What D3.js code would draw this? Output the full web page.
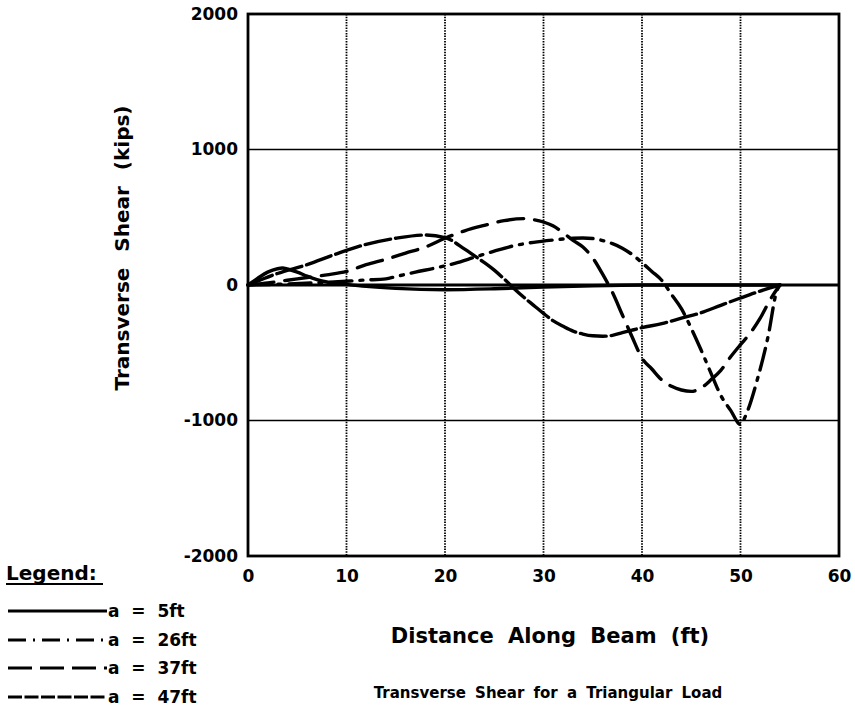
<!DOCTYPE html>
<html>
<head>
<meta charset="utf-8">
<script src="https://cdn.jsdelivr.net/npm/d3@7"></script>
<style>
  html, body { margin: 0; padding: 0; background: #fff; }
  svg { display: block; }
  text { font-family: "DejaVu Sans", "Liberation Sans", sans-serif; font-weight: bold; fill: #000; }
</style>
</head>
<body>
<svg id="chart" width="855" height="709"></svg>
<script>
// ---- Data ----
const xTicks = [0, 10, 20, 30, 40, 50, 60];
const yTicks = [-2000, -1000, 0, 1000, 2000];
const seriesNames = ["a = 5ft", "a = 26ft", "a = 37ft", "a = 47ft"];

// a = 5ft (solid)
const a5x = [0, 1, 2, 3, 3.5, 4, 5, 6, 7, 8, 10, 12, 15, 20, 25, 30, 35, 40, 54];
const a5y = [0, 50, 95, 120, 125, 118, 95, 65, 40, 22, 5, -10, -25, -35, -28, -15, -5, 0, 0];

// a = 26ft (dash-dot)
const a26x = [0, 4, 8, 12, 14, 15, 17, 19, 21, 23, 25, 27, 29, 31, 33, 34, 35, 36, 37, 38, 39, 40, 41, 42, 43, 44, 45, 46, 47, 48, 49, 50, 50.6, 51.7, 52.8, 53.7, 54];
const a26y = [0, 8, 20, 37, 45, 62, 95, 125, 160, 205, 250, 290, 315, 332, 345, 347, 343, 328, 305, 272, 225, 165, 100, 35, -70, -175, -320, -480, -650, -815, -925, -1030, -950, -700, -380, -40, 0];

// a = 37ft (long dashes)
const a37x = [0, 2, 4, 6, 8, 10, 12, 14, 16, 18, 20, 22, 24, 26, 28, 29, 30, 31, 32, 33, 34, 35, 36, 37, 38, 39, 40, 41, 42, 43, 44, 45, 46, 47, 48, 49, 50, 51, 52, 53, 54];
const a37y = [0, 15, 35, 55, 75, 100, 150, 190, 235, 280, 345, 400, 440, 475, 490, 482, 465, 435, 385, 330, 280, 200, 80, -55, -220, -384, -540, -620, -700, -748, -775, -785, -760, -700, -630, -530, -440, -354, -245, -110, 0];

// a = 47ft (short-gap dashes)
const a47x = [0, 3, 6, 9, 12, 15, 18, 20, 22, 23, 24, 25, 26, 27, 28, 29, 30, 31, 32, 33, 34, 35, 36, 37, 38, 39, 40, 42, 44, 46, 48, 50, 52, 53, 54];
const a47y = [0, 85, 150, 230, 300, 345, 369, 350, 265, 215, 165, 110, 45, -25, -90, -150, -210, -265, -305, -340, -362, -375, -378, -372, -352, -333, -315, -285, -245, -205, -150, -96, -45, -22, 0];

const seriesX = [a5x, a26x, a37x, a47x];
const seriesY = [a5y, a26y, a37y, a47y];
const dashes = [null, "22,8,3,8", "26,11", "26,5"];

// ---- Layout ----
const svg = d3.select("#chart");
const pLeft = 248, pRight = 839, pTop = 14, pBottom = 556;

const x = d3.scaleLinear().domain([0, 60]).range([pLeft, pRight]);
const y = d3.scaleLinear().domain([-2000, 2000]).range([pBottom, pTop]);

// Vertical dotted grid
svg.append("g").selectAll("line").data(xTicks.slice(1, -1)).join("line")
  .attr("x1", d => x(d)).attr("x2", d => x(d))
  .attr("y1", pTop).attr("y2", pBottom)
  .attr("stroke", "#000").attr("stroke-width", 1.8).attr("stroke-dasharray", "1.5,1.2");

// Horizontal grid
svg.append("g").selectAll("line").data(yTicks.slice(1, -1)).join("line")
  .attr("x1", pLeft).attr("x2", pRight)
  .attr("y1", d => y(d)).attr("y2", d => y(d))
  .attr("stroke", "#000").attr("stroke-width", d => d === 0 ? 2.8 : 1.7);

// Frame
svg.append("rect").attr("x", pLeft).attr("y", pTop)
  .attr("width", pRight - pLeft).attr("height", pBottom - pTop)
  .attr("fill", "none").attr("stroke", "#000").attr("stroke-width", 2.8);

// Axes (labels only)
const xAxis = d3.axisBottom(x).tickValues(xTicks).tickSize(0).tickPadding(14).tickFormat(d => String(d));
const gx = svg.append("g").attr("transform", `translate(0,${pBottom})`).call(xAxis);
gx.select(".domain").remove();
gx.selectAll("text").style("font-size", "17px").style("font-family", "DejaVu Sans").style("font-weight", "bold");

const yAxis = d3.axisLeft(y).tickValues(yTicks).tickSize(0).tickPadding(10).tickFormat(d => String(d));
const gy = svg.append("g").attr("transform", `translate(${pLeft},0)`).call(yAxis);
gy.select(".domain").remove();
gy.selectAll("text").style("font-size", "17px").style("font-family", "DejaVu Sans").style("font-weight", "bold");

// Curves
const lineMono = d3.line().x(d => x(d[0])).y(d => y(d[1])).curve(d3.curveMonotoneX);
seriesX.forEach((xs, i) => {
  const pts = xs.map((v, j) => [v, seriesY[i][j]]);
  svg.append("path").datum(pts)
    .attr("d", lineMono(pts))
    .attr("fill", "none").attr("stroke", "#000")
    .attr("stroke-width", 3.4)
    .attr("stroke-linecap", "round")
    .attr("stroke-dasharray", dashes[i]);
});

// Axis titles
svg.append("text").attr("transform", "translate(129,248) rotate(-90)")
  .attr("text-anchor", "middle").style("font-size", "20px").style("word-spacing", "9px")
  .text("Transverse Shear (kips)");
svg.append("text").attr("x", 550).attr("y", 643)
  .attr("text-anchor", "middle").style("font-size", "21px").style("word-spacing", "7px")
  .text("Distance Along Beam (ft)");
svg.append("text").attr("x", 548).attr("y", 698)
  .attr("text-anchor", "middle").style("font-size", "15px").style("word-spacing", "4px")
  .text("Transverse Shear for a Triangular Load");

// Legend
svg.append("text").attr("x", 6).attr("y", 580).style("font-size", "20px").text("Legend:");
svg.append("line").attr("x1", 6).attr("x2", 103).attr("y1", 584).attr("y2", 584)
  .attr("stroke", "#000").attr("stroke-width", 2);
const legY = [611, 640, 668, 697];
const legDash = [null, "18,7,2,7", "24,8", "14,2.5"];
seriesNames.forEach((name, i) => {
  svg.append("line").attr("x1", 8).attr("x2", 107)
    .attr("y1", legY[i]).attr("y2", legY[i])
    .attr("stroke", "#000").attr("stroke-width", 3)
    .attr("stroke-dasharray", legDash[i]);
  svg.append("text").attr("x", 108).attr("y", legY[i] + 6)
    .style("font-size", "17px").style("white-space", "pre").text(name.replace(" = ", "  =  "));
});
</script>
</body>
</html>
